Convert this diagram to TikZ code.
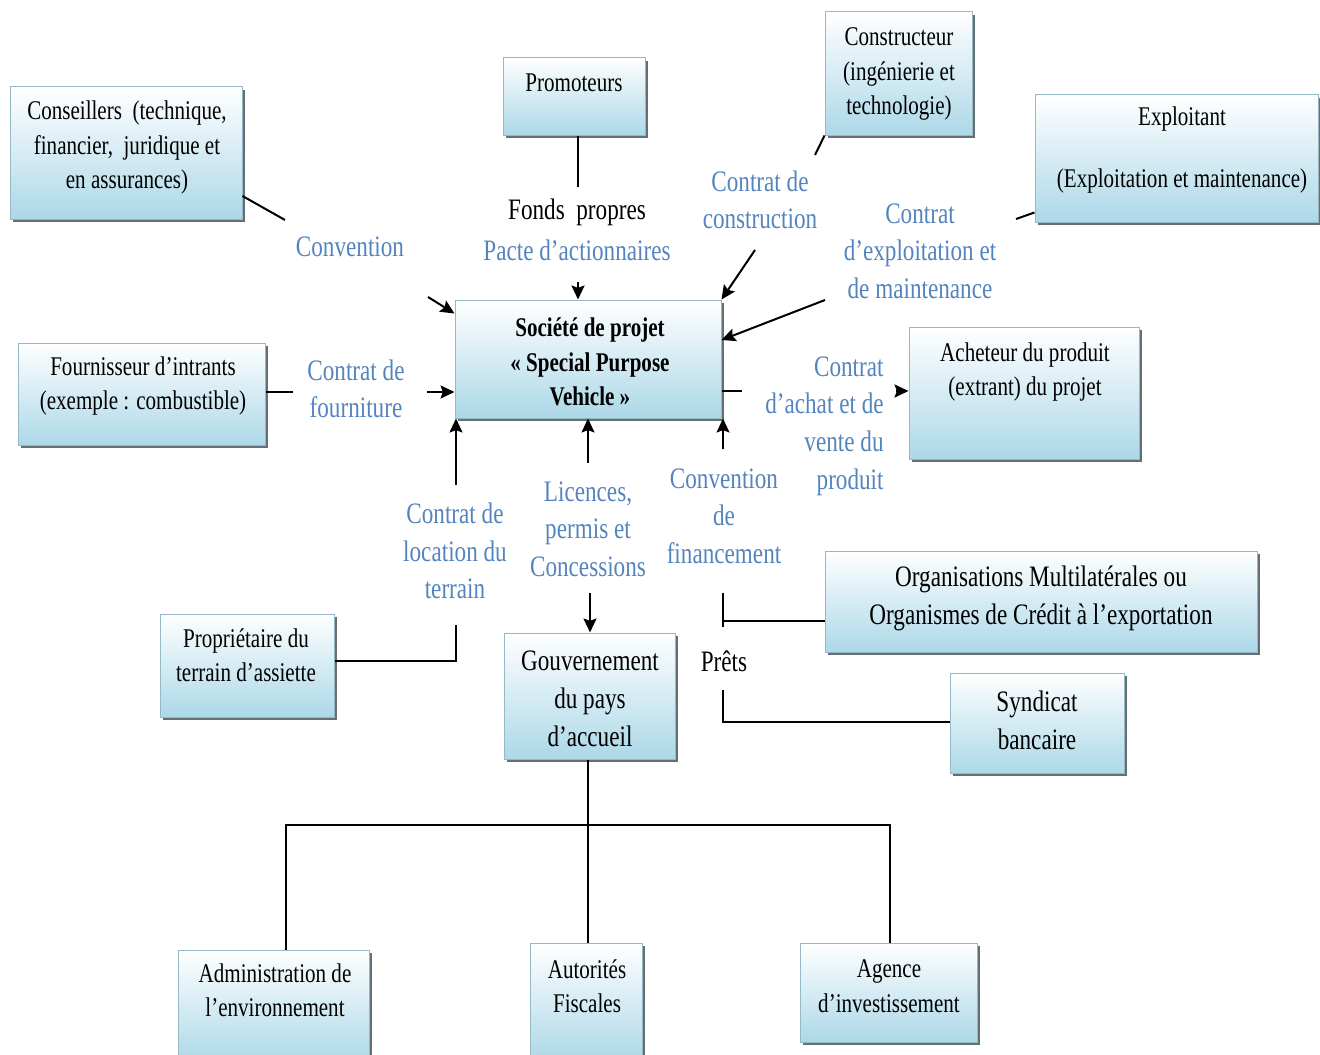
\documentclass[tikz,border=0pt]{standalone}
\usepackage{fontspec}
\setmainfont{Liberation Serif}[FakeStretch=0.78]
\usetikzlibrary{shadows,arrows.meta,fit}
\definecolor{lblue}{RGB}{84,132,190}
\definecolor{boxbot}{RGB}{172,216,232}
\definecolor{boxedge}{RGB}{150,185,200}
\definecolor{shadowc}{RGB}{100,110,115}
\tikzset{
  box/.style={draw=boxedge, line width=0.5pt, top color=white, bottom color=boxbot,
    inner sep=0pt, general shadow={fill=shadowc, shadow xshift=1.3pt, shadow yshift=-1.5pt}},
  btxt/.style={align=center, inner sep=0pt, font=\fontsize{13.5}{17.25}\selectfont},
  btxtL/.style={align=center, inner sep=0pt, font=\fontsize{14.85}{19}\selectfont},
  lab/.style={align=center, inner sep=0pt, text=lblue, font=\fontsize{14.85}{18.8}\selectfont},
  conn/.style={line width=1pt},
  arr/.style={line width=1pt, -{Stealth[length=7pt, width=6.5pt, inset=1.2pt]}}
}
\begin{document}
\begin{tikzpicture}[x=0.5pt, y=-0.5pt]
\useasboundingbox (0,0) rectangle (1320,1054);

% ---------- boxes ----------
\node[box, fit={(10,87)(242,219)}] (cons) {};
\node[btxt] (cons-t) at (127,148) {Conseillers\ \ (technique,\\financier,\ \ juridique et\\en assurances)};

\node[box, fit={(503,58)(645,135)}] (prom) {};
\node[btxt] (prom-t) at (574,83) {Promoteurs};

\node[box, fit={(825,12)(972,135)}] (constr) {};
\node[btxt] (constr-t) at (899,74) {Constructeur\\(ingénierie et\\technologie)};

\node[box, fit={(1035,95)(1318,222)}] (expl) {};
\node[btxt] (expl-t) at (1182,150) {Exploitant\\[13.5pt](Exploitation et maintenance)};

\node[box, fit={(455,300)(721,418)}] (spv) {};
\node[btxt, font=\fontsize{13.5}{17.25}\selectfont\bfseries] (spv-t) at (590,362) {Société de projet\\« Special Purpose\\Vehicle »};

\node[box, fit={(18,343)(265,445)}] (four) {};
\node[btxt] (four-t) at (143,386) {Fournisseur d’intrants\\(exemple : combustible)};

\node[box, fit={(909,327)(1139,459)}] (ach) {};
\node[btxt] (ach-t) at (1025,372) {Acheteur du produit\\(extrant) du projet};

\node[box, fit={(825,551)(1257,652)}] (org) {};
\node[btxtL] (org-t) at (1041,598) {Organisations Multilatérales ou\\Organismes de Crédit à l’exportation};

\node[box, fit={(950,673)(1124,773)}] (synd) {};
\node[btxtL] (synd-t) at (1037,720) {Syndicat\\bancaire};

\node[box, fit={(160,614)(334,717)}] (prop) {};
\node[btxt] (prop-t) at (246,655) {Propriétaire du\\terrain d’assiette};

\node[box, fit={(504,633)(675,759)}] (gouv) {};
\node[btxtL] (gouv-t) at (590,699) {Gouvernement\\du pays\\d’accueil};

\node[box, fit={(178,950)(369,1062)}] (adm) {};
\node[btxt] (adm-t) at (275,990) {Administration de\\l’environnement};

\node[box, fit={(530,943)(642,1062)}] (aut) {};
\node[btxt] (aut-t) at (587,986) {Autorités\\Fiscales};

\node[box, fit={(800,943)(977,1042)}] (age) {};
\node[btxt] (age-t) at (889,986) {Agence\\d’investissement};

% ---------- labels ----------
\node[lab] (l-conv) at (350,247) {Convention};
\node[btxtL] (l-fonds) at (577,212) {Fonds\ \ propres};
\node[lab] (l-pacte) at (577,250) {Pacte d’actionnaires};
\node[lab] (l-constr) at (760,200) {Contrat de\\construction};
\node[lab] (l-expl) at (920,251) {Contrat\\d’exploitation et\\de maintenance};
\node[lab] (l-four) at (356,389) {Contrat de\\fourniture};
\node[lab, align=right, anchor=east] (l-achat) at (884,426) {Contrat\\d’achat et de\\vente du\\produit};
\node[lab] (l-loc) at (455,551) {Contrat de\\location du\\terrain};
\node[lab] (l-lic) at (588,529) {Licences,\\permis et\\Concessions};
\node[lab] (l-fin) at (724,516) {Convention\\de\\financement};
\node[btxtL] (l-prets) at (724,661) {Prêts};

% ---------- free-end coordinates ----------
\coordinate (cA) at (285,220);
\coordinate (cB) at (428,297);
\coordinate (pA) at (578,187);
\coordinate (pB) at (578,282);
\coordinate (kA) at (815,155);
\coordinate (kB) at (755,250);
\coordinate (eA) at (1016,219);
\coordinate (eB) at (825,300);
\coordinate (fA) at (293,392);
\coordinate (fB) at (427,392);
\coordinate (aA) at (742,391);
\coordinate (aB) at (896,391);
\coordinate (lA) at (456,661);
\coordinate (lB) at (456,625);
\coordinate (lC) at (456,485);
\coordinate (iA) at (588,463);
\coordinate (iB) at (590,593);
\coordinate (nA) at (723,449);
\coordinate (nB) at (723,593);
\coordinate (nC) at (723,627);
\coordinate (nD) at (723,621);
\coordinate (nE) at (723,690);
\coordinate (nF) at (950,722);
\coordinate (gA) at (588,825);
\coordinate (hL) at (286,825);
\coordinate (hR) at (890,825);

% ---------- connectors ----------
\draw[conn] ([yshift=-21.5pt]cons.east) -- (cA);
\draw[arr] (cB) -- ([yshift=-7pt]spv.north west);

\draw[conn] (prom.south -| pA) -- (pA);
\draw[arr] (pB) -- (spv.north -| pB);

\draw[conn] (constr.south west) -- (kA);
\draw[arr] (kB) -- (spv.north east);

\draw[conn] ([yshift=5pt]expl.south west) -- (eA);
\draw[arr] (eB) -- ([yshift=9.5pt]spv.east);

\draw[conn] (four.east |- fA) -- (fA);
\draw[arr] (fB) -- (spv.west |- fB);

\draw[conn] (spv.east |- aA) -- (aA);
\draw[arr] (aB) -- (ach.west |- aB);

\draw[conn] (prop.east |- lA) -- (lA) -- (lB);
\draw[arr] (lC) -- (spv.south -| lC);

\draw[arr] (iA) -- (spv.south -| iA);
\draw[arr] (iB) -- (gouv.north -| iB);

\draw[arr] (nA) -- (spv.south -| nA);
\draw[conn] (nB) -- (nC);
\draw[conn] (org.west |- nD) -- (nD);
\draw[conn] (nE) |- (synd.west |- nF);

\draw[conn] (gouv.south -| gA) -- (aut.north -| gA);
\draw[conn] (adm.north -| hL) -- (hL) -- (hR) -- (age.north -| hR);
\end{tikzpicture}
\end{document}
